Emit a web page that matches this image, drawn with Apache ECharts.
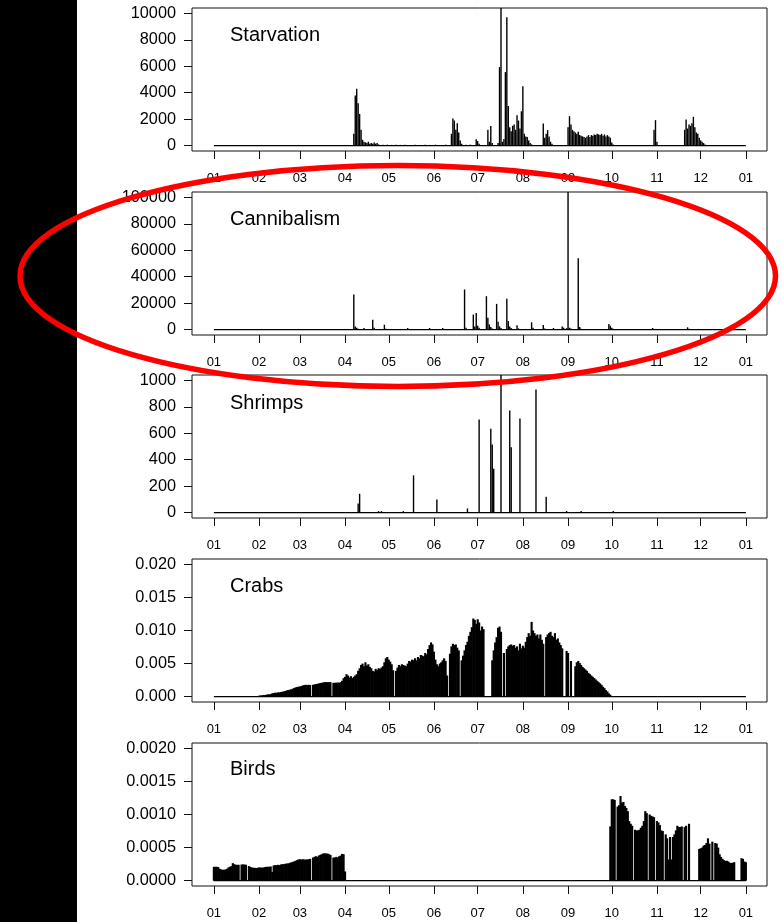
<!DOCTYPE html>
<html><head><meta charset="utf-8">
<script src="https://cdn.jsdelivr.net/npm/echarts@6/dist/echarts.min.js"></script>
<style>html,body{margin:0;padding:0;background:#fff}#c{width:782px;height:922px}</style>
</head><body><div id="c"></div>
<script>
// ---- data ----
const monthDays = [0,31,59,90,120,151,181,212,243,273,304,334,365];
const monthLabels = ['01','02','03','04','05','06','07','08','09','10','11','12','01'];
const panelTitles = ['Starvation','Cannibalism','Shrimps','Crabs','Birds'];
const yTicksStarv = [0,2000,4000,6000,8000,10000];
const yTicksCann = [0,20000,40000,60000,80000,100000];
const yTicksShrimp = [0,200,400,600,800,1000];
const yTicksCrabs = [0,0.005,0.010,0.015,0.020];
const yTicksBirds = [0,0.0005,0.0010,0.0015,0.0020];
const yTop = [10000,100000,1000,0.02,0.002];

const starvDays = [96,97,98,99,100,101,102,103,104,105,106,107,108,109,110,111,112,113,
  116,119,122,125,128,131,134,138,141,145,148,152,156,159,
  163,164,165,166,167,168,169,170,173,176,
  180,181,182,188,189,190,191,
  195,196,197,198,199,200,201,202,203,204,205,206,207,208,209,210,211,212,213,214,215,216,217,218,
  226,227,228,229,230,231,232,
  243,244,245,246,247,248,249,250,251,252,253,254,255,256,257,258,259,260,261,262,263,264,265,266,267,268,269,270,271,272,273,274,
  302,303,304,
  323,324,325,326,327,328,329,330,331,332,333,334,335,336,337];
const starvVals = [900,3800,4300,3200,2400,1200,450,300,250,200,300,150,200,150,250,150,200,100,
  80,80,60,80,60,80,60,80,60,80,60,80,60,80,
  900,2050,1900,1200,1700,1000,400,150,80,80,
  480,350,150,1200,300,1480,200,
  200,5940,12000,300,500,5560,9700,3000,1400,1100,1500,1600,1200,2300,1900,1300,2600,4490,900,700,650,400,200,100,
  1680,600,900,1180,700,300,150,
  1400,2230,1600,1200,1100,1000,900,1050,800,750,700,650,600,700,800,650,800,750,850,800,900,850,800,900,750,850,700,800,700,600,250,100,
  1200,1930,300,
  1200,1980,1300,1600,1500,1700,2180,1400,1000,900,600,400,300,200,100];

const cannDays = [96,97,98,99,103,109,110,117,118,133,148,157,172,173,178,179,180,181,182,
  187,188,189,190,191,194,195,196,197,201,202,203,204,208,209,218,219,226,227,233,239,240,242,
  243,244,245,250,251,252,271,272,273,274,301,325,326];
const cannVals = [26600,2500,1500,800,1300,7600,1500,3800,800,1300,1300,1300,30400,1500,11400,2500,12700,3000,1500,
  25300,9000,4000,2000,1000,19500,6000,2500,1200,23300,6500,2500,1200,3300,1000,5600,1500,3500,1000,1300,2500,1500,1200,
  110000,1500,1000,54000,2000,800,4300,3000,1500,800,1300,1800,800];

const shrimpDays = [99,100,113,115,130,137,153,174,182,190,191,192,197,203,204,210,221,228,242,252,274];
const shrimpVals = [70,143,12,12,12,282,100,32,704,634,515,332,1100,772,495,711,930,121,13,13,13];

const crabsFirstDay = 31;
const crabsVals = [
  0.00015,0.0002,0.0002,0.00025,0.00025,0.0003,0.00035,0.00035,0.0004,0.0005,
  0.00055,0.0006,0.0006,0.00065,0.00065,0.0007,0.00075,0.0008,0.00085,0.00095,
  0.001,0.00105,0.0011,0.0012,0.0013,0.0014,0.00145,0.0015,0.00155,0.0016,
  0.0017,0.00175,0.0018,0.00175,0.0018,0.00175,0,0.0018,0.00185,0.0019,
  0.00195,0.002,0.00205,0.0021,0.00215,0.0022,0.0022,0.0022,0.0022,0.0022,
  0,0.0021,0.0021,0.0021,0.00215,0.0021,0.0022,0.0024,0.0028,0.003,
  0.0034,0.0032,0.0029,0.0031,0.0028,0.003,0.0032,0.0034,0.0039,0.0043,
  0.0048,0.005,0.0046,0.0052,0.0047,0.0049,0.0045,0.0043,0.0039,0.0038,
  0.0042,0.004,0.0043,0.0042,0.0044,0.0046,0.0052,0.0058,0.006,0.0056,
  0.0053,0.0049,0.004,0,0.0039,0.0044,0.0048,0.0046,0.0049,0.0048,
  0.0047,0.0046,0.005,0.0054,0.0053,0.0056,0.0055,0.0058,0.0055,0.006,
  0.0058,0.0063,0.0062,0.0061,0.0066,0.0064,0.0072,0.0078,0.0082,0.0079,
  0.0068,0.0056,0.0049,0.0046,0.005,0.0052,0.0055,0.0058,0.0054,0.0032,
  0,0.0065,0.0076,0.008,0.0078,0.0079,0.0074,0.007,0,0.0055,
  0.0062,0.007,0.0078,0.0083,0.0092,0.0098,0.0105,0.0118,0.0116,0.011,
  0.0117,0.0112,0.01,0.0106,0.0102,0,0,0,0,0,
  0.0055,0.007,0.0082,0.009,0.0104,0.0106,0.0098,0,0.0066,0,
  0.0072,0.0076,0.0078,0.0079,0.0077,0.0078,0.0074,0.0076,0.007,0.008,
  0.0073,0.0077,0.0074,0.0083,0.009,0.0096,0.0092,0.0113,0.01,0.0096,
  0.0092,0.0094,0.0088,0.0094,0.0086,0.008,0,0.009,0.0094,0.0096,
  0.0098,0.0092,0.009,0.0096,0.0086,0.0088,0.0082,0.0078,0.0073,0,
  0,0.0069,0.0066,0,0.0054,0,0,0.0046,0.0052,0.0054,
  0.0051,0.0048,0.0045,0.0043,0.0041,0.0039,0.0036,0.0034,0.0032,0.003,
  0.0028,0.0026,0.0024,0.0022,0.002,0.0018,0.0015,0.0013,0.001,0.0008,
  0.0005,0.0003,0.0001];

const birdsFirstDayA = 0;
const birdsValsA = [
  0.00021,0.00021,0.00021,0.000205,0.00018,0.00017,0.000165,0.000165,0.00017,0.00018,
  0.0002,0.00021,0.00022,0.000265,0.00025,0.00024,0.00024,0.00024,0,0.000245,
  0.000245,0.000245,0.00024,0,0.00022,0.00021,0.0002,0.000195,0.000195,0.00019,
  0.000195,0.0002,0.0002,0.000195,0.0002,0.000205,0.00021,0.00021,0.00021,0.000215,
  0.00013,0.00023,0.000235,0.000235,0.00024,0.000235,0.000245,0.00025,0.00025,0.000255,
  0.00026,0.00026,0.00027,0.000275,0.000285,0.00029,0.0003,0.00031,0.00032,0.000325,
  0.00032,0.000325,0.00032,0.00032,0.00032,0.000325,0.00033,0,0.00035,0.00036,
  0.00037,0.00036,0.00038,0.00039,0.0004,0.00041,0.000415,0.00041,0.00041,0.0004,
  0.00039,0,0.00035,0.00035,0.00036,0.00035,0.00037,0.00038,0.000405,0.0004,
  0.00014];
const birdsFirstDayB = 272;
const birdsValsB = [
  0.00082,0.00123,0.00123,0.00122,0,0.00112,0.00114,0.00128,0.00118,0.00119,
  0.00113,0.0011,0.00105,0.0009,0.00086,0.00083,0,0.00077,0.00076,0.00076,
  0.00077,0.0008,0.00083,0.0009,0.00105,0.00102,0,0.001,0.00098,0.00097,
  0.00096,0,0.0009,0.00088,0.00084,0.00076,0.00075,0,0.0007,0.00064,
  0.00032,0.00066,0.00032,0.00066,0.0007,0.00076,0.00083,0.00081,0.00081,0.00082,
  0,0.00081,0.00083,0,0.00086,0,0,0,0,0,
  0,0.00048,0.00049,0.0005,0.00053,0.00054,0.00057,0.00064,0.00056,0,
  0.00059,0,0.00057,0.00056,0.0005,0.0004,0.00036,0.00033,0.00031,0.0003,
  0.0003,0.00029,0.00027,0.00027,0.00027,0.00028,0,0,0,0,
  0.00034,0.00033,0.00029,0.00028];

// ---- build ----
const pairs = (days, vals) => days.map((d, i) => [d, vals[i]]);
const seq = (start, vals) => vals.map((v, i) => [start + i, v]);

const panelData = [
  pairs(starvDays, starvVals),
  pairs(cannDays, cannVals),
  pairs(shrimpDays, shrimpVals),
  seq(crabsFirstDay, crabsVals),
  seq(birdsFirstDayA, birdsValsA).concat(seq(birdsFirstDayB, birdsValsB))
];
const yTicks = [yTicksStarv, yTicksCann, yTicksShrimp, yTicksCrabs, yTicksBirds];
const yFmt = [v => String(v), v => String(v), v => String(v), v => v.toFixed(3), v => v.toFixed(4)];

const tops = [8, 192, 375, 559, 743];
const titleY = [35.5, 219.7, 403, 586.3, 769.5];
const FONT = '"Liberation Sans", Arial, sans-serif';
const INK = '#111';

function barRenderer(dense) {
  return function (params, api) {
    const d = api.value(0), v = api.value(1);
    const p0 = api.coord([d, 0]);
    const p1 = api.coord([d, v]);
    const cs = params.coordSys;
    const yT = Math.max(p1[1], cs.y);
    const w = dense ? api.size([1, 0])[0] + 0.7 : 1.4;
    const h = p0[1] - yT;
    if (h <= 0) return null;
    return {type:'rect', shape:{x:p0[0] - w / 2, y:yT, width:w, height:h}, style:{fill:'#000'}};
  };
}

const grids = [], xAxes = [], yAxes = [], series = [], graphics = [];
graphics.push({type:'rect', shape:{x:0, y:0, width:77, height:922}, style:{fill:'#000'}, z:0});

for (let i = 0; i < 5; i++) {
  grids.push({left:192, top:tops[i], width:575, height:143, show:true, borderColor:INK, borderWidth:1, backgroundColor:'transparent'});
  xAxes.push({
    gridIndex:i, type:'value', min:-15, max:379.5, position:'bottom',
    axisLine:{show:false, onZero:false}, splitLine:{show:false},
    axisTick:{show:true, customValues:monthDays, length:8, lineStyle:{color:INK, width:1}},
    axisLabel:{customValues:monthDays, formatter:v => monthLabels[monthDays.indexOf(v)], margin:21, fontSize:13, color:'#000', fontFamily:FONT}
  });
  yAxes.push({
    gridIndex:i, type:'value', min:-0.04*yTop[i], max:1.04*yTop[i], position:'left',
    axisLine:{show:false, onZero:false}, splitLine:{show:false},
    axisTick:{show:true, customValues:yTicks[i], length:8, lineStyle:{color:INK, width:1}},
    axisLabel:{customValues:yTicks[i], formatter:yFmt[i], margin:16, fontSize:16.3, color:'#000', fontFamily:FONT}
  });
  series.push({type:'line', xAxisIndex:i, yAxisIndex:i, data:[[0,0],[365,0]], symbol:'none', silent:true,
    lineStyle:{color:'#000', width:1.3}, z:2});
  series.push({type:'custom', xAxisIndex:i, yAxisIndex:i, data:panelData[i], encode:{x:0, y:1},
    renderItem:barRenderer(i >= 3), silent:true, z:3});
  graphics.push({type:'text', x:230, y:titleY[i], z:50,
    style:{text:panelTitles[i], font:'20px ' + FONT, fill:'#000', align:'left', verticalAlign:'middle'}});
}
graphics.push({type:'ellipse', shape:{cx:397.75, cy:276, rx:377.75, ry:110.5},
  style:{fill:null, stroke:'#ff0000', lineWidth:5.5}, z:100});

const chart = echarts.init(document.getElementById('c'), null, {renderer:'canvas'});
chart.setOption({
  animation:false,
  backgroundColor:'#fff',
  grid:grids, xAxis:xAxes, yAxis:yAxes, series:series,
  graphic:{elements:graphics}
});
</script></body></html>
